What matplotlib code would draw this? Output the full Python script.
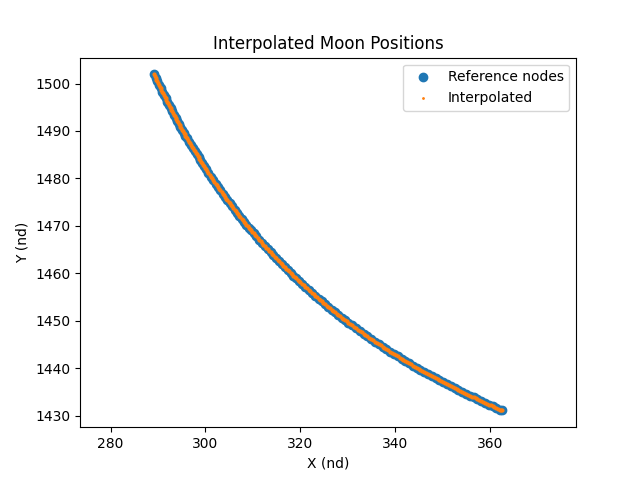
import matplotlib
matplotlib.use('Agg')
import matplotlib.pyplot as plt

# reference nodes
node_x = [289.15, 289.50, 289.85, 290.20, 290.55, 290.90, 291.25, 291.60, 291.95, 292.30,
          292.65, 293.00, 293.35, 293.70, 294.05, 294.40, 294.75, 295.10, 295.45, 295.80,
          296.15, 296.55, 296.95, 297.35, 297.75, 298.15, 298.55, 298.95, 299.35, 299.75,
          300.15, 300.65, 301.15, 301.65, 302.15, 302.65, 303.15, 303.65, 304.15, 304.65,
          305.15, 305.65, 306.15, 306.65, 307.15, 307.65, 308.15, 308.65, 309.15, 309.65,
          310.15, 310.75, 311.35, 311.95, 312.55, 313.15, 313.75, 314.35, 314.95, 315.55,
          316.15, 316.75, 317.35, 317.95, 318.55, 319.15, 319.75, 320.35, 321.05, 321.75,
          322.45, 323.15, 323.85, 324.55, 325.25, 325.95, 326.65, 327.35, 328.05, 328.75,
          329.45, 330.15, 330.95, 331.75, 332.55, 333.35, 334.15, 334.95, 335.75, 336.55,
          337.35, 338.15, 338.95, 339.75, 340.55, 341.35, 342.15, 342.95, 343.75, 344.55,
          345.35, 346.15, 346.95, 347.75, 348.55, 349.35, 350.15, 350.95, 351.75, 352.55,
          353.35, 354.15, 354.95, 355.75, 356.55, 357.35, 358.15, 358.95, 359.75, 360.55,
          361.35, 362.15, 362.55]
node_y = [1501.92, 1501.17, 1500.43, 1499.69, 1498.97, 1498.25, 1497.55, 1496.85, 1496.15, 1495.47,
          1494.79, 1494.12, 1493.46, 1492.80, 1492.16, 1491.52, 1490.88, 1490.25, 1489.63, 1489.02,
          1488.41, 1487.73, 1487.05, 1486.38, 1485.72, 1485.06, 1484.42, 1483.78, 1483.14, 1482.52,
          1481.90, 1481.14, 1480.39, 1479.64, 1478.91, 1478.19, 1477.48, 1476.78, 1476.09, 1475.41,
          1474.73, 1474.07, 1473.41, 1472.76, 1472.12, 1471.49, 1470.87, 1470.25, 1469.64, 1469.04,
          1468.45, 1467.75, 1467.06, 1466.38, 1465.71, 1465.05, 1464.39, 1463.75, 1463.12, 1462.49,
          1461.88, 1461.27, 1460.67, 1460.08, 1459.49, 1458.92, 1458.35, 1457.79, 1457.15, 1456.51,
          1455.89, 1455.27, 1454.67, 1454.07, 1453.48, 1452.90, 1452.33, 1451.76, 1451.21, 1450.66,
          1450.12, 1449.59, 1448.99, 1448.40, 1447.82, 1447.25, 1446.68, 1446.13, 1445.58, 1445.04,
          1444.51, 1443.99, 1443.48, 1442.97, 1442.47, 1441.98, 1441.49, 1441.01, 1440.54, 1440.08,
          1439.62, 1439.16, 1438.72, 1438.28, 1437.84, 1437.41, 1436.99, 1436.57, 1436.16, 1435.75,
          1435.35, 1434.96, 1434.57, 1434.18, 1433.80, 1433.42, 1433.05, 1432.68, 1432.32, 1431.96,
          1431.61, 1431.26, 1431.08]

# interpolated positions
interp_x = [289.15, 289.33, 289.50, 289.68, 289.85, 290.03, 290.20, 290.38, 290.55, 290.73,
            290.90, 291.08, 291.25, 291.43, 291.60, 291.78, 291.95, 292.13, 292.30, 292.48,
            292.65, 292.83, 293.00, 293.18, 293.35, 293.53, 293.70, 293.88, 294.05, 294.23,
            294.40, 294.58, 294.75, 294.93, 295.10, 295.28, 295.45, 295.63, 295.80, 295.98,
            296.15, 296.35, 296.55, 296.75, 296.95, 297.15, 297.35, 297.55, 297.75, 297.95,
            298.15, 298.35, 298.55, 298.75, 298.95, 299.15, 299.35, 299.55, 299.75, 299.95,
            300.15, 300.40, 300.65, 300.90, 301.15, 301.40, 301.65, 301.90, 302.15, 302.40,
            302.65, 302.90, 303.15, 303.40, 303.65, 303.90, 304.15, 304.40, 304.65, 304.90,
            305.15, 305.40, 305.65, 305.90, 306.15, 306.40, 306.65, 306.90, 307.15, 307.40,
            307.65, 307.90, 308.15, 308.40, 308.65, 308.90, 309.15, 309.40, 309.65, 309.90,
            310.15, 310.45, 310.75, 311.05, 311.35, 311.65, 311.95, 312.25, 312.55, 312.85,
            313.15, 313.45, 313.75, 314.05, 314.35, 314.65, 314.95, 315.25, 315.55, 315.85,
            316.15, 316.45, 316.75, 317.05, 317.35, 317.65, 317.95, 318.25, 318.55, 318.85,
            319.15, 319.45, 319.75, 320.05, 320.35, 320.70, 321.05, 321.40, 321.75, 322.10,
            322.45, 322.80, 323.15, 323.50, 323.85, 324.20, 324.55, 324.90, 325.25, 325.60,
            325.95, 326.30, 326.65, 327.00, 327.35, 327.70, 328.05, 328.40, 328.75, 329.10,
            329.45, 329.80, 330.15, 330.55, 330.95, 331.35, 331.75, 332.15, 332.55, 332.95,
            333.35, 333.75, 334.15, 334.55, 334.95, 335.35, 335.75, 336.15, 336.55, 336.95,
            337.35, 337.75, 338.15, 338.55, 338.95, 339.35, 339.75, 340.15, 340.55, 340.95,
            341.35, 341.75, 342.15, 342.55, 342.95, 343.35, 343.75, 344.15, 344.55, 344.95,
            345.35, 345.75, 346.15, 346.55, 346.95, 347.35, 347.75, 348.15, 348.55, 348.95,
            349.35, 349.75, 350.15, 350.55, 350.95, 351.35, 351.75, 352.15, 352.55, 352.95,
            353.35, 353.75, 354.15, 354.55, 354.95, 355.35, 355.75, 356.15, 356.55, 356.95,
            357.35, 357.75, 358.15, 358.55, 358.95, 359.35, 359.75, 360.15, 360.55, 360.95,
            361.35, 361.75, 362.15, 362.35, 362.55]
interp_y = [1501.92, 1501.54, 1501.17, 1500.80, 1500.43, 1500.06, 1499.69, 1499.33, 1498.97, 1498.61,
            1498.25, 1497.90, 1497.55, 1497.19, 1496.85, 1496.50, 1496.15, 1495.81, 1495.47, 1495.13,
            1494.79, 1494.46, 1494.12, 1493.79, 1493.46, 1493.13, 1492.80, 1492.48, 1492.16, 1491.84,
            1491.52, 1491.20, 1490.88, 1490.57, 1490.25, 1489.94, 1489.63, 1489.33, 1489.02, 1488.72,
            1488.41, 1488.07, 1487.73, 1487.39, 1487.05, 1486.71, 1486.38, 1486.05, 1485.72, 1485.39,
            1485.06, 1484.74, 1484.42, 1484.10, 1483.78, 1483.46, 1483.14, 1482.83, 1482.52, 1482.21,
            1481.90, 1481.52, 1481.14, 1480.76, 1480.39, 1480.01, 1479.64, 1479.28, 1478.91, 1478.55,
            1478.19, 1477.84, 1477.48, 1477.13, 1476.78, 1476.43, 1476.09, 1475.75, 1475.41, 1475.07,
            1474.73, 1474.40, 1474.07, 1473.74, 1473.41, 1473.09, 1472.76, 1472.44, 1472.12, 1471.81,
            1471.49, 1471.18, 1470.87, 1470.56, 1470.25, 1469.95, 1469.64, 1469.34, 1469.04, 1468.75,
            1468.45, 1468.10, 1467.75, 1467.40, 1467.06, 1466.72, 1466.38, 1466.04, 1465.71, 1465.38,
            1465.05, 1464.72, 1464.39, 1464.07, 1463.75, 1463.43, 1463.12, 1462.81, 1462.49, 1462.19,
            1461.88, 1461.57, 1461.27, 1460.97, 1460.67, 1460.37, 1460.08, 1459.78, 1459.49, 1459.20,
            1458.92, 1458.64, 1458.35, 1458.07, 1457.79, 1457.47, 1457.15, 1456.83, 1456.51, 1456.20,
            1455.89, 1455.58, 1455.27, 1454.97, 1454.67, 1454.37, 1454.07, 1453.77, 1453.48, 1453.19,
            1452.90, 1452.61, 1452.33, 1452.05, 1451.76, 1451.49, 1451.21, 1450.93, 1450.66, 1450.39,
            1450.12, 1449.85, 1449.59, 1449.29, 1448.99, 1448.69, 1448.40, 1448.11, 1447.82, 1447.53,
            1447.25, 1446.96, 1446.68, 1446.41, 1446.13, 1445.86, 1445.58, 1445.31, 1445.04, 1444.78,
            1444.51, 1444.25, 1443.99, 1443.73, 1443.48, 1443.22, 1442.97, 1442.72, 1442.47, 1442.22,
            1441.98, 1441.73, 1441.49, 1441.25, 1441.01, 1440.78, 1440.54, 1440.31, 1440.08, 1439.85,
            1439.62, 1439.39, 1439.16, 1438.94, 1438.72, 1438.50, 1438.28, 1438.06, 1437.84, 1437.63,
            1437.41, 1437.20, 1436.99, 1436.78, 1436.57, 1436.37, 1436.16, 1435.96, 1435.75, 1435.55,
            1435.35, 1435.15, 1434.96, 1434.76, 1434.57, 1434.37, 1434.18, 1433.99, 1433.80, 1433.61,
            1433.42, 1433.23, 1433.05, 1432.86, 1432.68, 1432.50, 1432.32, 1432.14, 1431.96, 1431.78,
            1431.61, 1431.43, 1431.26, 1431.17, 1431.08]

plt.figure(figsize=(6.4, 4.8), dpi=100)
plt.scatter(node_x, node_y, label='Reference nodes')
plt.scatter(interp_x, interp_y, s=4, label='Interpolated')
plt.axis('equal')
plt.xlabel('X (nd)')
plt.ylabel('Y (nd)')
plt.title('Interpolated Moon Positions')
leg = plt.legend()
leg.legend_handles[1].set_sizes([1])
plt.savefig('out.png')
